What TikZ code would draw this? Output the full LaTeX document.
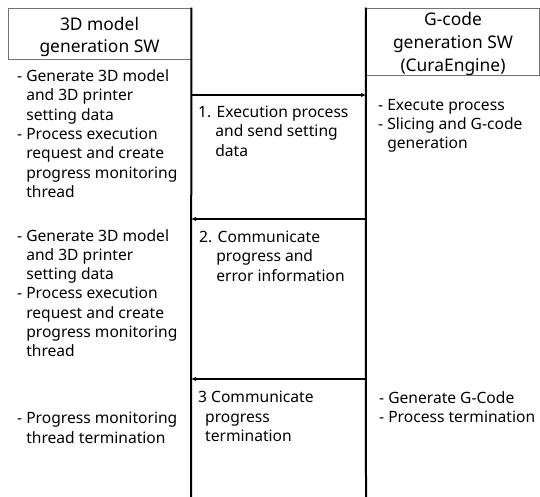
\documentclass[tikz,border=0pt]{standalone}
\usepackage{fontspec}
\setmainfont{Noto Sans}
\usetikzlibrary{arrows.meta}
\newcommand\myind{\hphantom{-\ }}
\begin{document}
\begin{tikzpicture}[x=1pt,y=-1pt,
  hbox/.style={draw=black!55, line width=0.8pt, inner sep=0pt},
  htxt/.style={inner sep=0pt, align=center,
    font=\fontsize{17.4}{22.6}\selectfont},
  txt/.style={anchor=north west, inner sep=0pt, align=left,
    font=\fontsize{15.6}{19.3}\selectfont},
  life/.style={line width=2pt, black},
  msg/.style={line width=1.5pt, -{Latex[length=5pt,width=4.5pt]}}]
\useasboundingbox (0,0) rectangle (540,497);
% headers
\node[hbox, minimum width=183pt, minimum height=51pt] (hA) at (99.5,33.5) {};
\node[htxt] (hAt) at (99.5,37) {3D model\\generation SW};
\node[hbox, minimum width=173pt, minimum height=67pt] (hB) at (452.75,41.5) {};
\node[htxt] (hBt) at (453,44) {G-code\\generation SW\\(CuraEngine)};
% lifelines
\coordinate (aBot) at (191,497);
\coordinate (bBot) at (366,497);
\draw[life] (hA.north east) -- (aBot);
\draw[life] (hB.north west) -- (bBot);
% messages
\coordinate (a1) at (191,95);  \coordinate (b1) at (366,95);
\coordinate (a2) at (191,219); \coordinate (b2) at (366,219);
\coordinate (a3) at (191,379); \coordinate (b3) at (366,379);
\draw[msg] (a1) -- (b1);
\draw[msg] (b2) -- (a2);
\draw[msg] (b3) -- (a3);
% left texts
\node[txt] (l1) at (17,69.5) {- Generate 3D model\\\myind and 3D printer\\\myind setting data\\- Process execution\\\myind request and create\\\myind progress monitoring\\\myind thread};
\node[txt] (l2) at (17,229) {- Generate 3D model\\\myind and 3D printer\\\myind setting data\\- Process execution\\\myind request and create\\\myind progress monitoring\\\myind thread};
\node[txt] (l3) at (17,412) {- Progress monitoring\\\myind thread termination};
% message labels
\node[txt] (m1) at (198,106) {1. Execution process\\\hphantom{1.\ }and send setting\\\hphantom{1.\ }data};
\node[txt] (m2) at (199,231) {2. Communicate\\\hphantom{2.\ }progress and\\\hphantom{2.\ }error information};
\node[txt] (m3) at (198,391) {3 Communicate\\\hspace{7pt}progress\\\hspace{7pt}termination};
% right texts
\node[txt] (r1) at (378,99) {- Execute process\\- Slicing and G-code\\\myind generation};
\node[txt] (r2) at (379,391) {- Generate G-Code\\- Process termination};
\end{tikzpicture}
\end{document}
